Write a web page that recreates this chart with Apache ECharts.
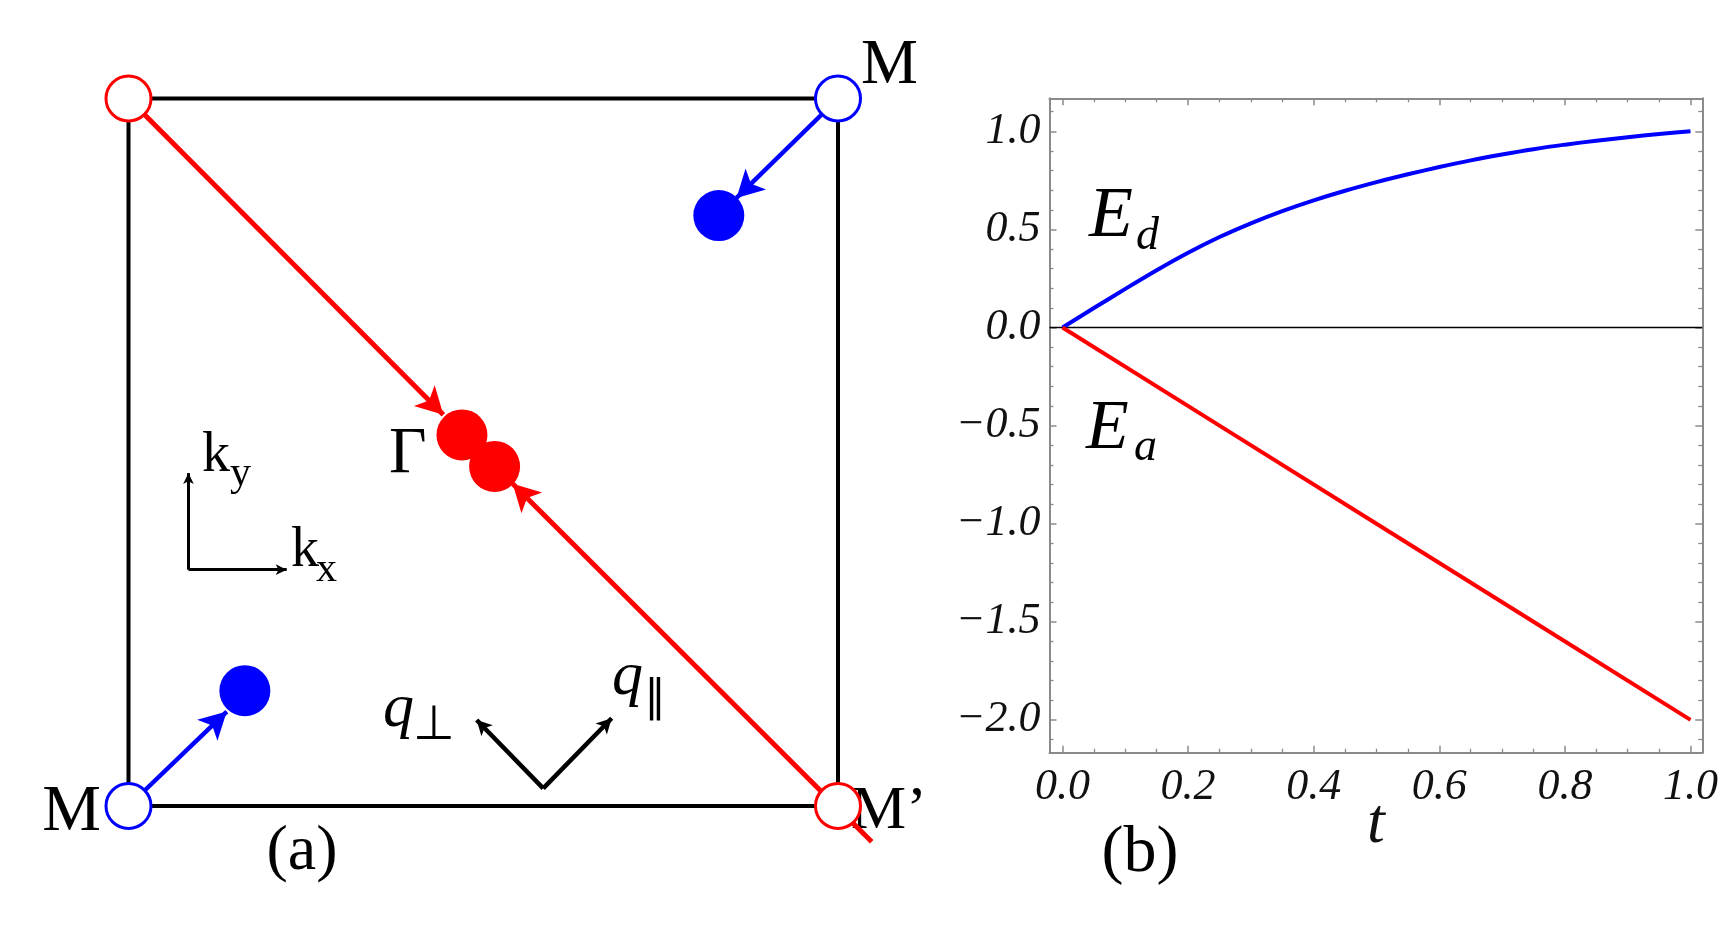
<!DOCTYPE html>
<html>
<head>
<meta charset="utf-8">
<script src="https://cdn.jsdelivr.net/npm/echarts@6/dist/echarts.min.js"></script>
<style>
html,body{margin:0;padding:0;background:#fff;}
#c{width:1721px;height:930px;}
</style>
</head>
<body>
<div id="c"></div>
<script>
// ---------- Panel (b) data ----------
const tValues  = [0,0.05,0.1,0.15,0.2,0.25,0.3,0.35,0.4,0.45,0.5,0.55,0.6,0.65,0.7,0.75,0.8,0.85,0.9,0.95,1.0];
const edValues = [0,0.099,0.197,0.292,0.381,0.461,0.531,0.593,0.648,0.697,0.741,0.781,0.818,0.852,0.882,0.909,0.932,0.952,0.970,0.986,1.0];
const eaT      = [0,0.25,0.5,0.75,1.0];
const eaValues = [0,-0.5,-1.0,-1.5,-2.0];
const tRange   = [-0.0207, 1.0188];
const eRange   = [-2.1672, 1.1682];
const xTickLabels = ['0.0','0.2','0.4','0.6','0.8','1.0'];
const yTickLabels = ['\u22122.0','\u22121.5','\u22121.0','\u22120.5','0.0','0.5','1.0'];

// ---------- Panel (a) data (k-space, zone = [-1,1] x [-1,1]) ----------
const zoneCorners      = [[-1,-1],[1,-1],[1,1],[-1,1],[-1,-1]];
const openRedPoints    = [[-1,1],[1,-1]];
const openBluePoints   = [[1,1],[-1,-1]];
const filledRedPoints  = [[-0.06,0.049],[0.032,-0.04]];
const filledBluePoints = [[0.664,0.669],[-0.672,-0.674]];
const redPaths  = [[[-1,1],[-0.1125,0.106]], [[1.095,-1.101],[0.083,-0.089]]];
const bluePaths = [[[1,1],[0.714,0.719]], [[-1,-1],[-0.723,-0.733]]];
const kAxes = [[[-0.831,-0.332],[-0.831,-0.059]], [[-0.831,-0.332],[-0.554,-0.332]]];
const qAxes = [[[0.169,-0.950],[-0.0185,-0.757]], [[0.169,-0.950],[0.362,-0.752]]];

// ---------- styling ----------
const SERIF = '"Liberation Serif","Times New Roman",serif';
const SYM = '"DejaVu Sans",sans-serif';
const frameColor = '#8a8a8a';

function fmtX(v){
  const i = Math.round(v/0.2);
  return (Math.abs(v - i*0.2) < 1e-6 && i >= 0 && i < xTickLabels.length) ? xTickLabels[i] : '';
}
function fmtY(v){
  const i = Math.round((v+2)/0.5);
  return (Math.abs(v - (i*0.5-2)) < 1e-6 && i >= 0 && i < yTickLabels.length) ? yTickLabels[i] : '';
}

// text annotations (pixel layout): [text, x, y(middle), font, align]
const annotations = [
  ['M', 861, 66, '64px '+SERIF, 'left'],
  ['M', 101, 813, '66px '+SERIF, 'right'],
  ['M\u2019', 851, 812, '62px '+SERIF, 'left'],
  ['\u0393', 389, 455, '65px '+SERIF, 'left'],
  ['(a)', 302, 852, '64px '+SERIF, 'center'],
  ['k', 202, 456, '56px '+SERIF, 'left'],
  ['y', 230, 474, '42px '+SERIF, 'left'],
  ['k', 291, 551, '56px '+SERIF, 'left'],
  ['x', 316, 570, '42px '+SERIF, 'left'],
  ['q', 612, 678, 'italic 62px '+SERIF, 'left'],
  ['\u2225', 644, 700, '44px '+SYM, 'left'],
  ['q', 383, 710, 'italic 62px '+SERIF, 'left'],
  ['\u22A5', 413, 727, '48px '+SYM, 'left'],
  ['E', 1089, 217, 'italic 72px '+SERIF, 'left'],
  ['d', 1136, 237, 'italic 46px '+SERIF, 'left'],
  ['E', 1086, 430, 'italic 70px '+SERIF, 'left'],
  ['a', 1134, 448, 'italic 46px '+SERIF, 'left'],
  ['(b)', 1140, 854, '66px '+SERIF, 'center']
];

const axisCommon = {
  type: 'value',
  gridIndex: 1,
  splitLine: {show: false},
  axisLine: {show: true, onZero: false, lineStyle: {color: frameColor, width: 2}},
  axisTick: {show: true, inside: true, length: 7, lineStyle: {color: frameColor, width: 1.5}},
  minorTick: {show: true, length: 4, lineStyle: {color: frameColor, width: 1.3}}
};

const chart = echarts.init(document.getElementById('c'));
chart.setOption({
  animation: false,
  backgroundColor: '#ffffff',
  grid: [
    {left: 128.5, top: 98.5, width: 709.5, height: 707.5},
    {left: 1049.5, top: 98.3, width: 653.2, height: 654.4}
  ],
  xAxis: [
    {type: 'value', gridIndex: 0, min: -1, max: 1, show: false},
    Object.assign({}, axisCommon, {
      position: 'bottom', min: tRange[0], max: tRange[1], minInterval: 0.2, maxInterval: 0.2,
      minorTick: Object.assign({}, axisCommon.minorTick, {splitNumber: 4}),
      axisLabel: {show: true, margin: 13, formatter: fmtX, fontFamily: SERIF, fontStyle: 'italic', fontSize: 44, color: '#111'},
      name: 't', nameLocation: 'middle', nameGap: 40, nameMoveOverlap: false,
      nameTextStyle: {fontFamily: SERIF, fontStyle: 'italic', fontSize: 64, color: '#111'}
    }),
    Object.assign({}, axisCommon, {
      position: 'top', min: tRange[0], max: tRange[1], minInterval: 0.2, maxInterval: 0.2,
      minorTick: Object.assign({}, axisCommon.minorTick, {splitNumber: 4}),
      axisLabel: {show: false}
    })
  ],
  yAxis: [
    {type: 'value', gridIndex: 0, min: -1, max: 1, show: false},
    Object.assign({}, axisCommon, {
      position: 'left', min: eRange[0], max: eRange[1], minInterval: 0.5, maxInterval: 0.5,
      minorTick: Object.assign({}, axisCommon.minorTick, {splitNumber: 5}),
      axisLabel: {show: true, margin: 9, formatter: fmtY, fontFamily: SERIF, fontStyle: 'italic', fontSize: 44, color: '#111'}
    }),
    Object.assign({}, axisCommon, {
      position: 'right', min: eRange[0], max: eRange[1], minInterval: 0.5, maxInterval: 0.5,
      minorTick: Object.assign({}, axisCommon.minorTick, {splitNumber: 5}),
      axisLabel: {show: false}
    })
  ],
  graphic: annotations.map(a => ({
    type: 'text', z: 1, silent: true,
    style: {text: a[0], x: a[1], y: a[2], font: a[3], fill: '#000', textAlign: a[4],
            textVerticalAlign: 'middle', verticalAlign: 'middle'}
  })),
  series: [
    // ---- panel (a) ----
    {type: 'line', xAxisIndex: 0, yAxisIndex: 0, data: zoneCorners, symbol: 'none', clip: false,
     lineStyle: {color: '#000', width: 4}, z: 2, silent: true},
    {type: 'lines', coordinateSystem: 'cartesian2d', xAxisIndex: 0, yAxisIndex: 0, clip: false,
     data: redPaths.map(p => ({coords: p})), symbol: ['none','arrow'],
     symbolSize: [0, [22, 27]], symbolOffset: [0, [0, 13.5]],
     lineStyle: {color: '#ff0000', width: 5, opacity: 1}, z: 3, silent: true},
    {type: 'lines', coordinateSystem: 'cartesian2d', xAxisIndex: 0, yAxisIndex: 0, clip: false,
     data: bluePaths.map(p => ({coords: p})), symbol: ['none','arrow'],
     symbolSize: [0, [22, 27]], symbolOffset: [0, [0, 13.5]],
     lineStyle: {color: '#0000ff', width: 4.5, opacity: 1}, z: 3, silent: true},
    {type: 'lines', coordinateSystem: 'cartesian2d', xAxisIndex: 0, yAxisIndex: 0, clip: false,
     data: kAxes.map(p => ({coords: p})), symbol: ['none','arrow'],
     symbolSize: [0, [8, 11]], symbolOffset: [0, [0, 5.5]],
     lineStyle: {color: '#000', width: 3, opacity: 1}, z: 3, silent: true},
    {type: 'lines', coordinateSystem: 'cartesian2d', xAxisIndex: 0, yAxisIndex: 0, clip: false,
     data: qAxes.map(p => ({coords: p})), symbol: ['none','arrow'],
     symbolSize: [0, [12, 15]], symbolOffset: [0, [0, 7.5]],
     lineStyle: {color: '#000', width: 4.5, opacity: 1}, z: 3, silent: true},
    {type: 'scatter', xAxisIndex: 0, yAxisIndex: 0, data: filledRedPoints, symbolSize: 51, clip: false,
     itemStyle: {color: '#ff0000', opacity: 1}, z: 4, silent: true},
    {type: 'scatter', xAxisIndex: 0, yAxisIndex: 0, data: filledBluePoints, symbolSize: 51, clip: false,
     itemStyle: {color: '#0000ff', opacity: 1}, z: 4, silent: true},
    {type: 'scatter', xAxisIndex: 0, yAxisIndex: 0, data: openRedPoints, symbolSize: 45, clip: false,
     itemStyle: {color: '#ffffff', borderColor: '#ff0000', borderWidth: 3, opacity: 1}, z: 5, silent: true},
    {type: 'scatter', xAxisIndex: 0, yAxisIndex: 0, data: openBluePoints, symbolSize: 45, clip: false,
     itemStyle: {color: '#ffffff', borderColor: '#0000ff', borderWidth: 3, opacity: 1}, z: 5, silent: true},
    // ---- panel (b) ----
    {type: 'line', xAxisIndex: 1, yAxisIndex: 1, data: [[tRange[0], 0], [tRange[1], 0]], symbol: 'none',
     lineStyle: {color: '#000', width: 1.5}, z: 2, silent: true},
    {type: 'line', name: 'E_d', xAxisIndex: 1, yAxisIndex: 1, data: tValues.map((t, i) => [t, edValues[i]]),
     symbol: 'none', smooth: 0.3, lineStyle: {color: '#0000ff', width: 4}, z: 3},
    {type: 'line', name: 'E_a', xAxisIndex: 1, yAxisIndex: 1, data: eaT.map((t, i) => [t, eaValues[i]]),
     symbol: 'none', lineStyle: {color: '#ff0000', width: 4}, z: 3}
  ]
});
</script>
</body>
</html>
